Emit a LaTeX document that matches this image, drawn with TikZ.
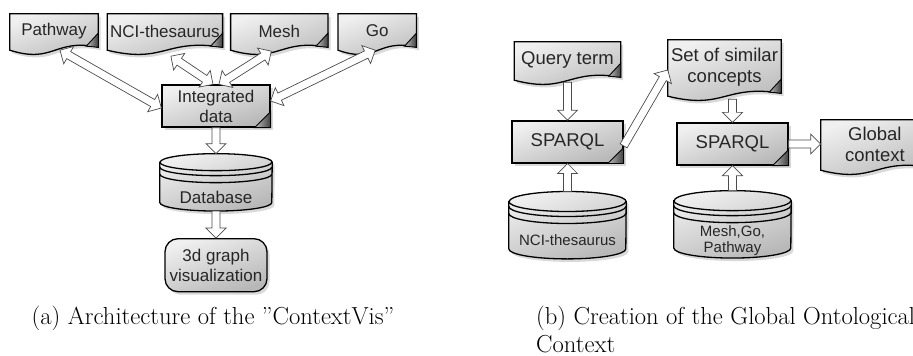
\documentclass[tikz,border=0pt]{standalone}
\usepackage{fontspec}
\newfontfamily\diagfont{Liberation Sans}
\usetikzlibrary{calc,positioning,backgrounds,shadows}
\definecolor{sheetlight}{gray}{0.94}
\definecolor{sheetdark}{gray}{0.72}

\newcommand{\lsize}{\diagfont\fontsize{17}{20}\selectfont}
\newcommand{\rsize}{\diagfont\fontsize{18.5}{21}\selectfont}
\newcommand{\dsize}{\diagfont\fontsize{15}{16}\selectfont}

% sheet with a wavy lower edge and a curled corner
\newcommand{\docsheet}[1]{%
  \begin{pgfonlayer}{background}
    \path[sheet] (#1.north west) -- (#1.north east) -- ($(#1.south east)+(0,1)$)
      .. controls ($(#1.south)+(0,10)$) and ($(#1.south)+(0,-16)$) .. ($(#1.south west)+(0,-2)$)
      -- cycle;
    \path[curl] ($(#1.south east)+(0,15)$) -- ($(#1.south east)+(-12,2)$)
      -- ($(#1.south east)+(0,1)$) -- cycle;
  \end{pgfonlayer}}

% disk stack: node, x radius, y radius
\newcommand{\dbdisk}[3]{%
  \begin{pgfonlayer}{background}
    \path[sheet] ($(#1.north west)+(0,-#3)$) -- ($(#1.south west)+(0,#3)$)
      arc[start angle=180, end angle=360, x radius=#2pt, y radius=#3pt]
      -- ($(#1.north east)+(0,-#3)$)
      arc[start angle=0, end angle=180, x radius=#2pt, y radius=#3pt] -- cycle;
    \foreach \d in {0,5,12}
      \draw[rim] ($(#1.north west)+(0,-#3-\d)$)
        arc[start angle=180, end angle=360, x radius=#2pt, y radius=#3pt];
  \end{pgfonlayer}}

% curled corner of a plain box
\newcommand{\pagecurl}[1]{%
  \path[curl] ($(#1.south east)+(0,16)$) -- ($(#1.south east)+(-16,0)$) -- (#1.south east) -- cycle;}

% hollow block arrows
\newcommand{\hollowarrow}[2]{%
  \path (#1) coordinate (ha-a) (#2) coordinate (ha-b)
    ($(ha-b)!10pt!(ha-a)$) coordinate (ha-c);
  \path[harrow] ($(ha-a)!4pt!90:(ha-b)$) -- ($(ha-c)!4pt!-90:(ha-a)$)
    -- ($(ha-c)!10pt!-90:(ha-a)$) -- (ha-b) -- ($(ha-c)!10pt!90:(ha-a)$)
    -- ($(ha-c)!4pt!90:(ha-a)$) -- ($(ha-a)!4pt!-90:(ha-b)$) -- cycle;}
\newcommand{\hollowdarrow}[2]{%
  \path (#1) coordinate (ha-a) (#2) coordinate (ha-b)
    ($(ha-a)!10pt!(ha-b)$) coordinate (ha-d)
    ($(ha-b)!10pt!(ha-a)$) coordinate (ha-c);
  \path[harrow] (ha-a) -- ($(ha-d)!10pt!-90:(ha-b)$) -- ($(ha-d)!4pt!-90:(ha-b)$)
    -- ($(ha-c)!4pt!90:(ha-a)$) -- ($(ha-c)!10pt!90:(ha-a)$) -- (ha-b)
    -- ($(ha-c)!10pt!-90:(ha-a)$) -- ($(ha-c)!4pt!-90:(ha-a)$)
    -- ($(ha-d)!4pt!90:(ha-b)$) -- ($(ha-d)!10pt!90:(ha-b)$) -- cycle;}

\begin{document}
\begin{tikzpicture}[
    x=1pt, y=1pt,
    soft/.style={drop shadow={shadow xshift=2.5pt, shadow yshift=-3pt,
                 fill=black, opacity=0.15}},
    sheet/.style={draw=black, line width=1.3pt, top color=sheetlight,
                  bottom color=sheetdark, shading angle=20, soft},
    curl/.style={draw=black, line width=0.9pt, left color=black!25, right color=black!75},
    rim/.style={draw=black, line width=1.3pt},
    harrow/.style={draw=black!70, fill=white, line width=0.7pt, line join=miter},
    doc/.style={inner sep=0pt, text=black!85, font=\lsize, align=center},
    box/.style={sheet, inner sep=0pt, text=black!85, font=\lsize, align=center},
    disk/.style={inner sep=0pt, text=black!85, text depth=0pt, align=center},
    captext/.style={inner sep=0pt, font=\fontsize{24.6}{28}\selectfont}
]
\useasboundingbox (0,0) rectangle (913,-356);

% architecture
\node[doc, minimum width=88, minimum height=34] (pw) at (54,-31) {Pathway};
\node[doc, minimum width=115, minimum height=34, right=9pt of pw] (nci) {NCI-thesaurus};
\node[doc, minimum width=97, minimum height=34, right=8pt of nci] (mesh) {Mesh};
\node[doc, minimum width=78, minimum height=34, right=10pt of mesh] (go) {Go};
\node[box, minimum width=108, minimum height=42] (ig) at (216,-106) {Integrated\\data};
\node[disk, font=\lsize, minimum width=112, minimum height=57, text height=43pt,
      below=26pt of ig] (db) {Database};
\node[box, rounded corners=13pt, minimum width=102, minimum height=53,
      below=27pt of db] (viz) {3d graph\\visualization};
\foreach \n in {pw,nci,mesh,go} {\docsheet{\n}}
\pagecurl{ig}
\dbdisk{db}{56}{8.5}

\hollowdarrow{[xshift=6pt,yshift=-2pt]pw.south}{[yshift=-2pt]ig.west}
\hollowdarrow{[xshift=6pt,yshift=-8pt]nci.south}{[xshift=-3pt]ig.north}
\hollowdarrow{[xshift=-8pt,yshift=-3pt]mesh.south}{[xshift=3pt]ig.north}
\hollowdarrow{[xshift=-2pt,yshift=-2pt]go.south}{[yshift=5pt]ig.east}
\hollowarrow{ig.south}{db.north}
\hollowarrow{db.south}{viz.north}

% global context
\node[doc, font=\rsize, minimum width=106, minimum height=36] (qt) at (567.5,-60) {Query term};
\node[box, font=\rsize, minimum width=111, minimum height=42, below=42pt of qt] (sp1) {SPARQL};
\node[disk, font=\dsize, minimum width=117, minimum height=67, text height=40pt,
      below=28pt of sp1] (db1) {NCI-thesaurus};
\node[doc, font=\rsize, minimum width=113, minimum height=54] (sim) at (724.5,-67)
    {Set of similar\\concepts};
\node[box, font=\rsize, minimum width=111, minimum height=42] (sp2) at (732.5,-144) {SPARQL};
\node[disk, font=\dsize, minimum width=117, minimum height=67, text height=57pt,
      below=25pt of sp2] (db2) {Mesh,Go,\\Pathway};
\node[doc, font=\rsize, minimum width=108, minimum height=48, right=32pt of sp2] (gc)
    {Global\\context};
\foreach \n in {qt,sim,gc} {\docsheet{\n}}
\pagecurl{sp1}
\pagecurl{sp2}
\dbdisk{db1}{58.5}{10}
\dbdisk{db2}{58.5}{10}

\coordinate (simfoot) at ($(sim.south -| sp2.north)+(0,-5)$);
\hollowarrow{[yshift=-4pt]qt.south}{sp1.north}
\hollowarrow{db1.north}{sp1.south}
\hollowarrow{[yshift=-4pt]sp1.east}{[yshift=-3pt]sim.west}
\hollowarrow{simfoot}{sp2.north}
\hollowarrow{db2.north}{sp2.south}
\hollowarrow{sp2.east}{sp2.east -| gc.west}

\node[captext, anchor=base] (capa) at (213,-324) {(a) Architecture of the ''ContextVis''};
\node[captext, anchor=north west, align=left] (capb) at (536,-306)
    {(b) Creation of the Global Ontological\\Context};
\end{tikzpicture}
\end{document}
